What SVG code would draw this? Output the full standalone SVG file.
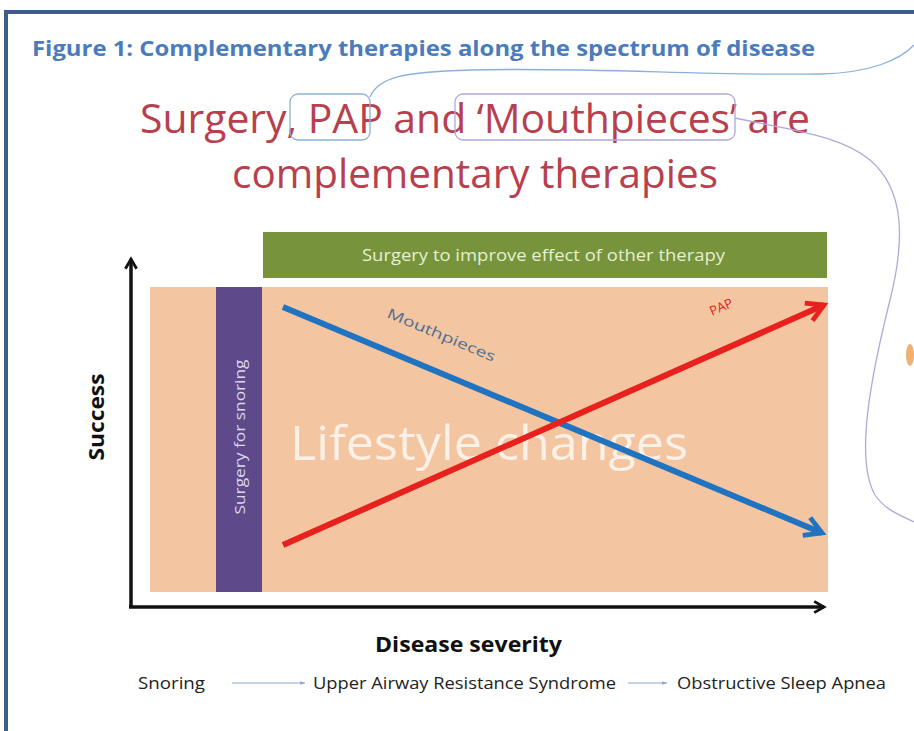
<svg xmlns="http://www.w3.org/2000/svg" width="914" height="731" viewBox="0 0 914 731">
<style>
.title{font-family:"Open Sans","Noto Sans",sans-serif;font-weight:bold;fill:#4a7cbd;font-size:21px}
.sub{font-family:"Open Sans","Noto Sans",sans-serif;fill:#b8404e;font-size:41px}
.lab{font-family:"Open Sans","Noto Sans",sans-serif}
.ax{stroke:#111;stroke-width:3.5;fill:none}
.hl{fill:none;stroke-width:1.3}
</style>
<defs>
<marker id="ah" viewBox="0 0 10 10" refX="8" refY="5" markerWidth="4" markerHeight="4" orient="auto" markerUnits="strokeWidth"><path d="M1,1 L8,5 L1,9" fill="none" stroke="#111" stroke-width="2"/></marker>
<marker id="ahb" viewBox="0 0 10 10" refX="8" refY="5" markerWidth="4" markerHeight="4" orient="auto" markerUnits="strokeWidth"><path d="M1,1 L8,5 L1,9" fill="none" stroke="#1f73c0" stroke-width="2"/></marker>
<marker id="ahr" viewBox="0 0 10 10" refX="8" refY="5" markerWidth="4" markerHeight="4" orient="auto" markerUnits="strokeWidth"><path d="M1,1 L8,5 L1,9" fill="none" stroke="#e8201e" stroke-width="2"/></marker>
<marker id="ahs" viewBox="0 0 10 10" refX="9" refY="5" markerWidth="6" markerHeight="6" orient="auto" markerUnits="userSpaceOnUse"><path d="M1,2 L9,5 L1,8z" fill="#8aa6c8"/></marker>
</defs>
<rect width="914" height="731" fill="#fff"/>
<!-- frame -->
<path d="M6,731 V12 H914" fill="none" stroke="#3c5e8c" stroke-width="4"/>
<g id="title"><text class="title" x="32" y="56" textLength="783" lengthAdjust="spacingAndGlyphs">Figure 1: Complementary therapies along the spectrum of disease</text></g>
<g id="subtitle">
<text class="sub" x="140" y="133" textLength="670" lengthAdjust="spacingAndGlyphs">Surgery, PAP and ‘Mouthpieces’ are</text>
<text class="sub" x="232" y="188" textLength="486" lengthAdjust="spacingAndGlyphs">complementary therapies</text>
</g>
<g id="highlights">
<rect class="hl" x="290" y="94" width="80" height="46" rx="8" stroke="#8db0da"/>
<rect class="hl" x="455" y="94" width="280" height="46" rx="8" stroke="#b2a9d9"/>
</g>
<g id="connectors">
<path class="hl" stroke="#8db0da" d="M370,97 C378,78 400,72 470,70 C600,67 700,76 820,74 C870,73 900,60 914,45"/>
<path class="hl" stroke="#b2a9d9" d="M735,118 C790,130 840,135 870,160 C905,190 905,240 890,300 C870,380 855,460 875,495 C885,510 900,515 914,522"/>
</g>
<g id="blob"><ellipse cx="910" cy="355" rx="4" ry="11" fill="#f0b070"/></g>
<g id="green-bar">
<rect x="263" y="232" width="564" height="46" fill="#77933c"/>
<text class="lab" x="362" y="261" font-size="16" fill="#e6f0d2" textLength="363" lengthAdjust="spacingAndGlyphs">Surgery to improve effect of other therapy</text>
</g>
<g id="lifestyle">
<rect x="150" y="287" width="678" height="305" fill="#f3c5a0"/>
<text class="lab" x="290" y="460" font-size="47" fill="#fff" fill-opacity="0.75" textLength="398" lengthAdjust="spacingAndGlyphs">Lifestyle changes</text>
</g>
<g id="surgery-snoring">
<rect x="216" y="287" width="46" height="305" fill="#5e4a8a"/>
<text class="lab" transform="translate(245,437) rotate(-90)" text-anchor="middle" font-size="15" fill="#ddd6ee" textLength="155" lengthAdjust="spacingAndGlyphs">Surgery for snoring</text>
</g>
<g id="mouthpieces">
<line x1="283" y1="307" x2="822" y2="533" stroke="#1f73c0" stroke-width="6" marker-end="url(#ahb)"/>
<text class="lab" transform="translate(386,317) rotate(22.7)" font-size="14" fill="#4f6e95" textLength="116" lengthAdjust="spacingAndGlyphs">Mouthpieces</text>
</g>
<g id="pap">
<line x1="283" y1="545" x2="824" y2="305" stroke="#e8201e" stroke-width="6" marker-end="url(#ahr)"/>
<text class="lab" transform="translate(712,316) rotate(-24)" font-size="13" fill="#e8201e">PAP</text>
</g>
<g id="axes">
<path class="ax" d="M131,607 V259" marker-end="url(#ah)"/>
<path class="ax" d="M129,607 H824" marker-end="url(#ah)"/>
<text class="lab" transform="translate(104,417) rotate(-90)" text-anchor="middle" font-size="21" font-weight="bold" fill="#111" textLength="87" lengthAdjust="spacingAndGlyphs">Success</text>
<text class="lab" x="375" y="652" font-size="21" font-weight="bold" fill="#111" textLength="187" lengthAdjust="spacingAndGlyphs">Disease severity</text>
</g>
<g id="spectrum">
<text class="lab" x="138" y="689" font-size="16" fill="#222" textLength="67" lengthAdjust="spacingAndGlyphs">Snoring</text>
<line x1="232" y1="683" x2="305" y2="683" stroke="#8aa6c8" stroke-width="1.2" marker-end="url(#ahs)"/>
<text class="lab" x="313" y="689" font-size="16" fill="#222" textLength="303" lengthAdjust="spacingAndGlyphs">Upper Airway Resistance Syndrome</text>
<line x1="628" y1="683" x2="667" y2="683" stroke="#8aa6c8" stroke-width="1.2" marker-end="url(#ahs)"/>
<text class="lab" x="677" y="689" font-size="16" fill="#222" textLength="209" lengthAdjust="spacingAndGlyphs">Obstructive Sleep Apnea</text>
</g>
</svg>
